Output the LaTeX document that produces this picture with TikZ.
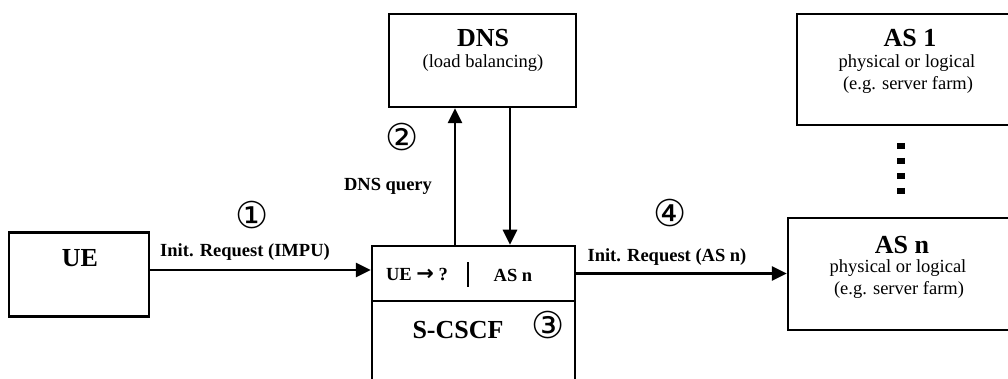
\documentclass[tikz,border=0pt]{standalone}
\usepackage{fontspec}
\setmainfont{Liberation Serif}
\newfontfamily\symfont{DejaVu Sans}
\usetikzlibrary{arrows.meta}
\begin{document}
\begin{tikzpicture}[x=1pt,y=-1pt,
  box/.style={draw,line width=2.5pt,inner sep=0pt},
  big/.style={font=\fontsize{26}{30}\selectfont\bfseries, inner sep=0pt},
  lbl/.style={font=\fontsize{18.5}{21}\selectfont\bfseries, inner sep=0pt},
  small/.style={font=\fontsize{18.5}{21}\selectfont, inner sep=0pt},
  num/.style={font=\fontsize{37}{40}\selectfont\symfont, inner sep=0pt},
  arr/.style={line width=2.8pt,-{Triangle[length=15pt,width=14pt]}},
]
\clip (0,0) rectangle (1008,379);
% boxes
\node[box, minimum width=140pt, minimum height=84pt] (ue) at (79,274.7) {};
\node[box, minimum width=203pt, minimum height=55pt] (scsTop) at (473.5,273.5) {};
\node[box, minimum width=203pt, minimum height=84pt] (scsBot) at (473.5,343) {};
\node[box, minimum width=187pt, minimum height=93pt] (dns) at (482.5,60.5) {};
\node[box, minimum width=215pt, minimum height=111pt] (as1) at (904.5,69.5) {};
\node[box, minimum width=224pt, minimum height=112pt] (asn) at (900,274) {};
% texts
\node[big] (tUE) at (80,258) {UE};
\node[big] (tDNS) at (483,38) {DNS};
\node[small] (tLB) at (483,63) {(load balancing)};
\node[big] (tAS1) at (910,38) {AS 1};
\node[small] (tP1) at (907,63) {physical or logical};
\node[small] (tE1) at (908,85) {(e.g. server farm)};
\node[big] (tASn) at (902,245) {AS n};
\node[small] (tPn) at (898,268) {physical or logical};
\node[small] (tEn) at (899,290) {(e.g. server farm)};
\node[lbl] (tUEq) at (417,275) {UE {\symfont\bfseries\fontsize{21}{21}\selectfont →} ?};
\node[lbl] (tASs) at (513,275) {AS n};
\node[big] (tSCSCF) at (458,330) {S-CSCF};
\node[lbl] (tIR1) at (245,252) {Init. Request (IMPU)};
\node[lbl] (tIR2) at (667,257) {Init. Request (AS n)};
\node[lbl] (tDQ) at (388,186) {DNS query};
\node[num] (n1) at (252,215) {①};
\node[num] (n2) at (402,137) {②};
\node[num] (n3) at (548,325) {③};
\node[num] (n4) at (670,213) {④};
% separator bar
\coordinate (b1) at (468,262);
\coordinate (b2) at (468,287);
\draw[line width=2pt] (b1) -- (b2);
% dots
\coordinate (d1) at (900.5,143);
\coordinate (d2) at (900.5,195);
\draw[line width=8pt, dash pattern=on 6pt off 9pt] (d1) -- (d2);
% connectors
\draw[arr] ([yshift=4.7pt]ue.east) -- ([yshift=4.7pt]ue.east -| scsTop.west);
\draw[arr] (scsTop.east) -- (scsTop.east -| asn.west);
\draw[arr] ([xshift=-27.5pt]dns.south |- scsTop.north) -- ([xshift=-27.5pt]dns.south);
\draw[arr] ([xshift=27.5pt]dns.south) -- ([xshift=27.5pt]dns.south |- scsTop.north);
\end{tikzpicture}
\end{document}
